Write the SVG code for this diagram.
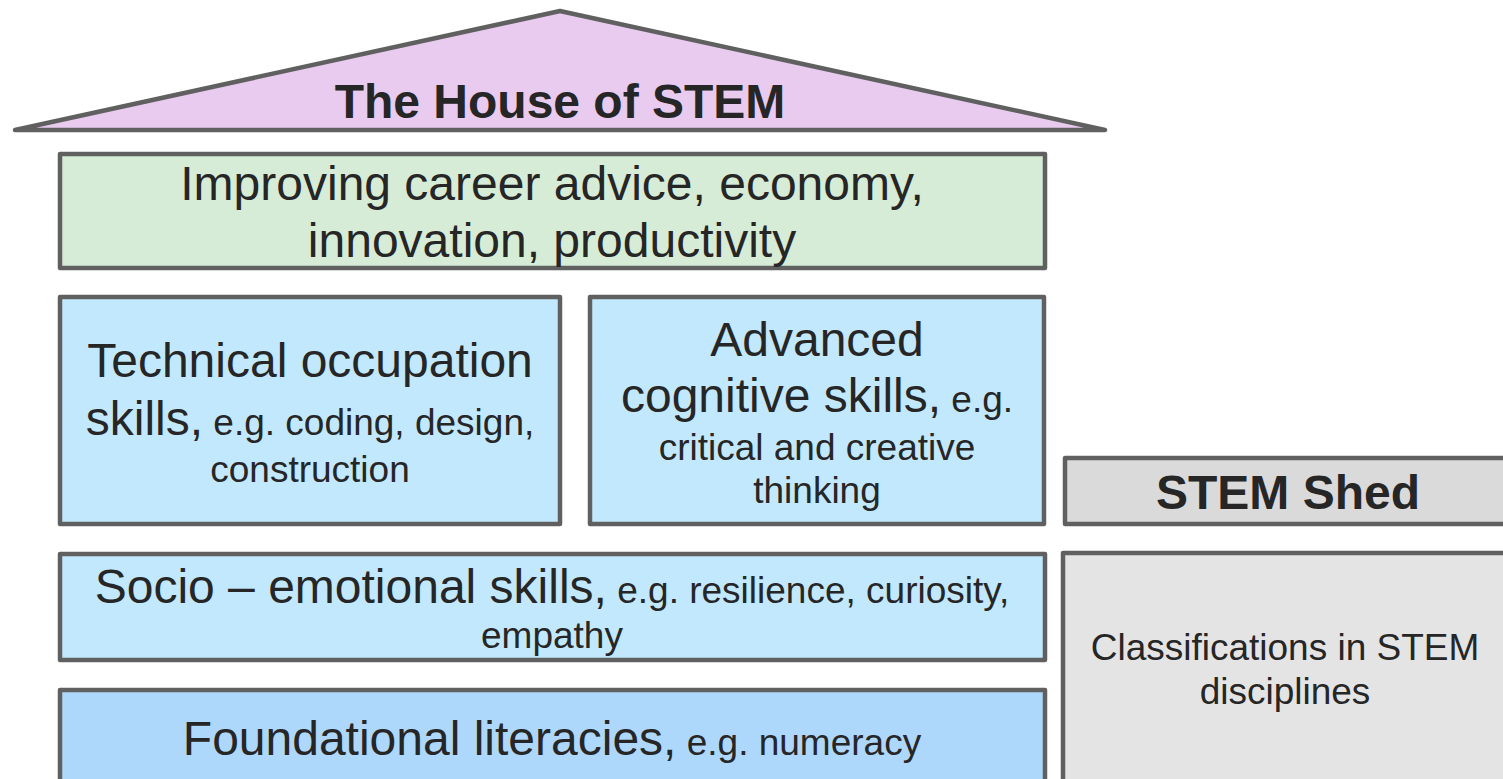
<svg xmlns="http://www.w3.org/2000/svg" width="1503" height="779" viewBox="0 0 1503 779">
<style>
.box{stroke:#606060;stroke-width:4.5;stroke-linejoin:round}
text{font-family:"Liberation Sans",Arial,sans-serif;fill:#262626;text-anchor:middle}
.lg{font-size:48px}
.sm{font-size:37px}
.b{font-weight:bold;font-size:48px}
</style>
<rect width="1503" height="779" fill="#ffffff"/>
<g id="roof">
<polygon class="box" points="15,130 560,11 1105,130" fill="#e8cbef" stroke-width="5"/>
<text class="b" x="560" y="118">The House of STEM</text>
</g>
<g id="outcomes">
<rect class="box" x="60" y="154" width="985" height="114" fill="#d7ecd6"/>
<text class="lg" x="552" y="200">Improving career advice, economy,</text>
<text class="lg" x="552" y="257">innovation, productivity</text>
</g>
<g id="technical">
<rect class="box" x="60" y="297" width="500" height="227" fill="#c2e8fd"/>
<text class="lg" x="310" y="377">Technical occupation</text>
<text x="310" y="435"><tspan class="lg">skills,</tspan><tspan class="sm"> e.g. coding, design,</tspan></text>
<text class="sm" x="310" y="482">construction</text>
</g>
<g id="advanced">
<rect class="box" x="590" y="297" width="454" height="227" fill="#c2e8fd"/>
<text class="lg" x="817" y="356">Advanced</text>
<text x="817" y="412"><tspan class="lg">cognitive skills,</tspan><tspan class="sm"> e.g.</tspan></text>
<text class="sm" x="817" y="460">critical and creative</text>
<text class="sm" x="817" y="503">thinking</text>
</g>
<g id="socio">
<rect class="box" x="60" y="554" width="985" height="106" fill="#c2e8fd"/>
<text x="552" y="603"><tspan class="lg">Socio – emotional skills,</tspan><tspan class="sm"> e.g. resilience, curiosity,</tspan></text>
<text class="sm" x="552" y="648">empathy</text>
</g>
<g id="foundational">
<rect class="box" x="60" y="690" width="985" height="110" fill="#aed8fb"/>
<text x="552" y="755"><tspan class="lg">Foundational literacies,</tspan><tspan class="sm"> e.g. numeracy</tspan></text>
</g>
<g id="shed">
<rect class="box" x="1065" y="458" width="450" height="66" fill="#dadada"/>
<text class="b" x="1288" y="509">STEM Shed</text>
</g>
<g id="classifications">
<rect class="box" x="1063" y="553" width="450" height="250" fill="#e4e4e4"/>
<text class="sm" x="1285" y="660">Classifications in STEM</text>
<text class="sm" x="1285" y="704">disciplines</text>
</g>
<g id="connectors"></g>
</svg>
